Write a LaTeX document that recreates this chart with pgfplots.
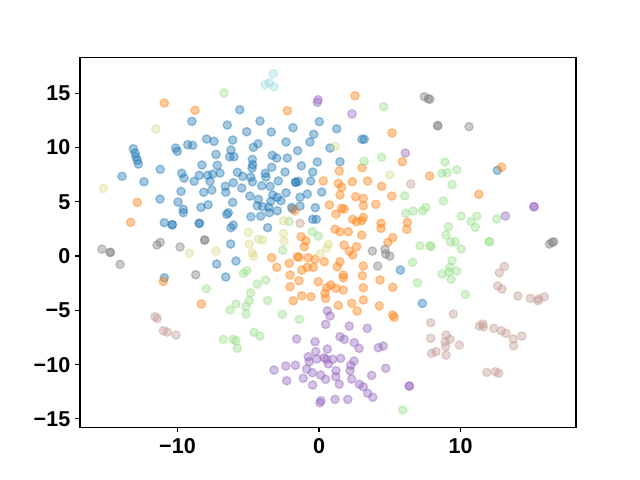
\documentclass[border=0pt]{standalone}
\usepackage{fontspec}
\setmainfont{Liberation Sans}
\usepackage{pgfplots}
\pgfplotsset{compat=1.18}

\definecolor{tBlue}{HTML}{1F77B4}
\definecolor{tOrange}{HTML}{FF7F0E}
\definecolor{tGreen}{HTML}{98DF8A}
\definecolor{tPurple}{HTML}{9467BD}
\definecolor{tBrown}{HTML}{C49C94}
\definecolor{tGray}{HTML}{7F7F7F}
\definecolor{tOlive}{HTML}{DBDB8D}
\definecolor{tCyan}{HTML}{9EDAE5}

\pgfplotsset{
  dot/.style={only marks, mark=*, mark size=3pt,
    mark options={draw=#1, fill=#1, draw opacity=0.4, fill opacity=0.4, line width=1pt}}
}

\begin{document}
\begin{tikzpicture}
\path[use as bounding box] (-57.6pt,-38.02pt) rectangle (403.2pt,307.58pt);
\begin{axis}[
    at={(0,0)}, anchor=south west,
    scale only axis,
    width=357.12pt, height=266.1pt,
    xmin=-16.89, xmax=18.16,
    ymin=-15.76, ymax=18.27,
    xtick={-10,0,10},
    xticklabels={−10,0,10},
    ytick={-15,-10,-5,0,5,10,15},
    yticklabels={−15,−10,−5,0,5,10,15},
    tick align=outside,
    major tick length=3.5pt,
    tick style={black, line width=0.8pt},
    axis line style={line width=0.8pt},
    ticklabel style={font=\fontsize{15.5}{17}\selectfont\bfseries},
    xticklabel style={yshift=-1pt},
    xtick pos=bottom, ytick pos=left,
]
% blue
\addplot[dot=tBlue] coordinates {
(-8.98,12.40)(-7.94,10.77)(-13.12,9.88)(-13.00,9.48)(-12.93,9.12)(-12.84,8.81)(-12.77,8.47)
(-10.13,9.94)(-10.01,9.64)(-9.28,10.25)(-8.93,10.19)(-8.27,8.38)(-11.22,7.98)(-9.70,7.62)
(-9.54,7.18)(-8.46,7.43)(-8.83,6.88)(-13.92,7.34)(-12.37,6.84)(-7.87,7.43)
(-5.60,13.47)(-4.17,12.43)(0.02,12.37)(-6.48,12.06)(-1.84,11.81)(-3.37,11.42)(-5.11,11.45)
(-0.37,11.21)(-7.42,10.56)(-6.10,10.68)(-2.33,10.50)(-0.64,10.50)(-4.31,10.34)(-4.64,10.01)
(0.78,9.94)(-6.22,9.76)(-1.51,9.70)(-7.28,9.36)(-6.31,9.14)(-6.01,9.14)(-3.30,9.27)(-2.99,9.02)
(-2.24,9.02)(-4.71,8.90)(-0.12,8.66)(-7.19,8.35)(-4.69,8.41)(-4.73,8.10)(-1.25,8.31)(-3.34,8.17)
(-5.77,7.71)(-5.39,7.34)(-7.51,7.55)(-7.00,7.64)(-3.80,7.62)(-3.75,7.27)(-2.40,7.73)(-0.45,7.73)
(-4.83,7.27)(-4.71,6.84)(-2.88,6.91)(-1.46,6.88)(-1.65,6.79)(-1.65,6.79)(-0.59,6.91)(-6.06,6.75)
(-6.62,6.42)(-7.70,6.88)(-5.46,6.26)(-4.05,6.47)(-3.46,6.42)
(1.25,11.72)(3.04,10.75)(3.20,10.75)(1.48,8.68)(12.60,7.89)
(-11.24,5.25)(-9.75,5.96)(-8.15,5.87)(-9.96,4.97)(-9.59,4.30)(-9.59,3.99)(-8.34,4.48)(-7.84,4.72)
(-10.93,3.07)(-10.37,2.88)(-10.37,2.88)(-8.46,3.01)(-8.46,3.01)(-10.93,-2.00)
(-7.58,6.08)(-6.59,5.87)(-4.88,5.52)(-4.29,5.22)(-4.36,4.63)(-3.27,5.62)(-2.95,5.41)(-2.33,5.83)
(-2.69,5.09)(-1.34,5.41)(-0.83,5.71)(-3.41,5.04)(-3.55,4.48)(-3.51,3.99)(-6.10,4.94)(-3.98,4.54)
(-2.95,4.17)(-1.93,4.48)(-1.34,4.60)(-0.26,4.45)(-6.41,3.99)(-6.52,3.84)(-4.81,3.62)(-4.12,3.68)
(-0.45,3.38)(-0.19,3.38)(-6.06,2.85)(-6.22,2.61)(-3.63,2.61)(-6.24,1.10)(-7.23,-0.74)(-5.87,-0.46)
(-6.59,-1.93)(0.19,5.89)(5.75,-1.29)(7.30,-4.36)
};
% orange
\addplot[dot=tOrange] coordinates {
(-10.93,14.09)(-8.76,13.42)(-2.24,13.38)(0.30,6.91)(2.54,14.76)(5.16,11.33)(5.89,8.68)(3.04,8.13)
(1.43,7.83)(7.82,7.37)(1.36,6.69)(2.35,6.84)(3.44,6.91)(4.43,6.42)(1.60,6.33)(12.91,8.17)
(-12.84,4.94)(-13.31,3.10)(-11.00,-2.33)(-8.32,-4.42)
(-1.70,4.17)(-1.27,1.78)(-0.92,1.41)(-1.04,0.86)(-3.34,-0.16)(-2.99,-1.04)(-1.53,-0.06)(-1.41,-0.12)
(-2.10,-0.67)(-0.76,-0.16)(-0.28,-0.30)(-1.22,-1.29)(-0.83,-1.04)(-0.40,-1.04)(-2.05,-1.75)
(-1.41,-2.27)(-0.05,-2.37)(-2.05,-2.83)(-1.22,-3.66)(-0.57,-3.75)(-1.82,-4.12)
(5.14,5.52)(1.48,5.62)(2.59,5.46)(3.13,5.31)(3.13,4.63)(4.01,4.76)(0.73,4.70)(1.60,4.39)(1.77,4.33)
(1.20,3.87)(2.38,3.38)(2.66,3.16)(3.02,3.25)(3.13,3.56)(4.38,3.01)(4.38,2.55)(6.24,3.10)(6.20,2.46)
(1.13,2.46)(1.48,2.24)(2.07,2.24)(3.02,1.93)(5.21,1.69)(4.86,1.26)(1.77,1.01)(2.14,0.46)(2.38,0.09)
(2.66,0.86)(0.37,-0.52)(1.48,-0.52)(1.29,-0.99)(3.13,-0.92)(1.72,-1.75)(1.72,-2.00)(3.06,-1.81)
(4.31,-2.21)(0.83,-2.67)(0.54,-2.92)(1.20,-2.97)(1.72,-3.13)(3.13,-2.92)(5.21,-2.88)(0.42,-3.43)
(0.47,-3.90)(1.36,-4.54)(2.31,-4.36)(3.13,-4.05)(4.26,-4.60)(2.69,-5.06)(5.21,-5.43)(5.30,-5.64)
(11.29,5.68)
};
% light green
\addplot[dot=tGreen] coordinates {
(-6.71,15.01)(4.57,13.75)(3.20,8.72)(4.43,9.09)(8.90,8.66)(8.67,7.62)(9.05,7.67)(9.73,7.95)(9.40,6.58)
(-7.96,-3.01)(-2.12,3.20)(-2.57,0.55)(-0.47,2.24)(-0.05,1.84)(-5.11,-1.35)(-5.35,-1.59)(-3.77,-2.21)
(-4.36,-2.58)(-4.83,-3.38)(-4.93,-4.10)(-5.16,-4.65)(-5.16,-5.34)(-5.87,-4.42)(-6.29,-4.97)
(-3.64,-4.10)(-2.59,-5.37)(-1.39,-5.83)(-4.59,-7.03)(-4.17,-7.37)(-6.76,-7.67)(-6.06,-7.67)
(-5.87,-7.80)(-5.77,-8.50)(6.06,5.55)(8.78,5.06)(6.13,3.93)(6.66,4.14)(7.33,4.17)(7.54,4.48)
(7.14,0.95)(7.84,0.95)(7.92,0.86)(9.14,2.70)(8.98,1.93)(9.30,1.29)(9.63,1.32)(10.04,0.64)
(12.04,1.32)(12.04,1.32)(9.40,-0.43)(9.26,-1.04)(9.17,-1.47)(9.73,-1.38)(9.33,-2.15)(10.34,-3.53)
(5.92,-14.18)(6.62,-0.58)(6.95,-2.46)(8.69,-1.66)(10.04,3.68)(10.74,3.16)(11.15,3.68)(11.05,2.64)
(12.56,3.41)
};
% purple
\addplot[dot=tPurple] coordinates {
(-0.07,14.39)(-0.12,14.15)(2.33,13.08)(6.10,9.48)(13.17,3.68)(15.19,4.54)(15.19,4.54)
(0.59,-5.04)(0.78,-5.52)(0.47,-6.29)(-1.58,-7.64)(-0.28,-7.89)(0.59,-8.56)(-0.23,-8.81)(-0.76,-9.27)
(-0.69,-9.73)(-0.16,-9.48)(0.35,-9.36)(0.66,-9.94)(0.52,-9.50)(-3.18,-10.50)(-2.35,-10.13)
(-1.67,-10.06)(-0.87,-10.41)(-0.47,-10.75)(0.12,-10.96)(0.47,-11.35)(-2.28,-11.48)(-1.11,-11.26)
(-0.45,-11.88)(0.14,-13.32)(0.07,-13.51)
(2.14,-6.45)(3.41,-6.66)(1.48,-7.43)(1.79,-7.67)(2.49,-7.98)(2.83,-8.50)(4.19,-8.44)(4.54,-8.29)
(0.97,-9.51)(1.53,-9.42)(2.47,-9.67)(2.24,-10.06)(2.19,-10.56)(1.20,-10.56)(1.18,-11.11)(1.43,-11.79)
(4.71,-10.34)(3.72,-10.99)(2.31,-11.33)(2.85,-11.81)(3.13,-12.04)(3.44,-12.64)(3.80,-13.01)
(1.13,-13.20)(2.03,-13.20)(6.38,-11.97)(6.38,-11.97)
};
% light brown
\addplot[dot=tBrown] coordinates {
(6.48,6.63)(-1.34,3.01)(13.10,-0.95)(12.74,-1.54)(12.63,-2.76)(12.93,-3.04)(14.04,-3.68)(14.93,-3.90)
(15.46,-4.12)(15.53,-3.96)(15.92,-3.75)(-11.59,-5.59)(-11.43,-5.74)(-11.00,-6.88)(-10.72,-7.00)
(-10.11,-7.27)(7.89,-6.14)(7.89,-7.58)(8.98,-7.27)(8.90,-7.89)(9.26,-7.67)(8.95,-8.35)(7.96,-8.96)
(8.27,-8.81)(8.98,-9.12)(9.49,-5.34)(11.33,-6.45)(11.57,-6.26)(11.61,-6.51)(12.35,-6.66)(12.88,-6.88)
(13.22,-7.12)(13.73,-7.64)(13.76,-8.26)(14.33,-7.37)(9.92,-8.20)(11.85,-10.71)(12.46,-10.65)
(12.70,-10.80)
};
% gray
\addplot[dot=tGray] coordinates {
(7.44,14.67)(7.72,14.48)(7.84,14.43)(8.39,12.00)(8.39,12.00)(10.60,11.91)(-15.34,0.64)(-14.75,0.34)
(-14.75,0.34)(-11.45,1.01)(-11.22,1.26)(-9.82,0.83)(-8.08,1.47)(-8.08,1.47)(-14.06,-0.76)(-8.71,-1.72)
(-1.86,4.33)(3.77,0.46)(4.66,0.62)(4.71,0.18)(5.00,0.00)(4.15,-0.92)(16.28,1.10)(16.47,1.26)(16.59,1.32)
};
% olive
\addplot[dot=tOlive] coordinates {
(-11.54,11.69)(-15.23,6.22)(-9.14,0.25)(1.15,10.10)(5.00,7.46)(-2.52,3.25)(-5.00,2.18)(-4.93,1.10)
(-4.29,1.54)(-3.98,1.47)(-7.28,0.46)(-4.71,0.30)(-4.64,0.00)(-2.52,2.09)(-2.47,1.38)(0.07,0.18)
(0.54,0.71)(0.67,1.10)
};
% cyan
\addplot[dot=tCyan] coordinates {
(-3.23,16.79)(-3.82,15.77)(-3.51,15.96)(-3.18,15.59)
};
\end{axis}
\end{tikzpicture}
\end{document}
